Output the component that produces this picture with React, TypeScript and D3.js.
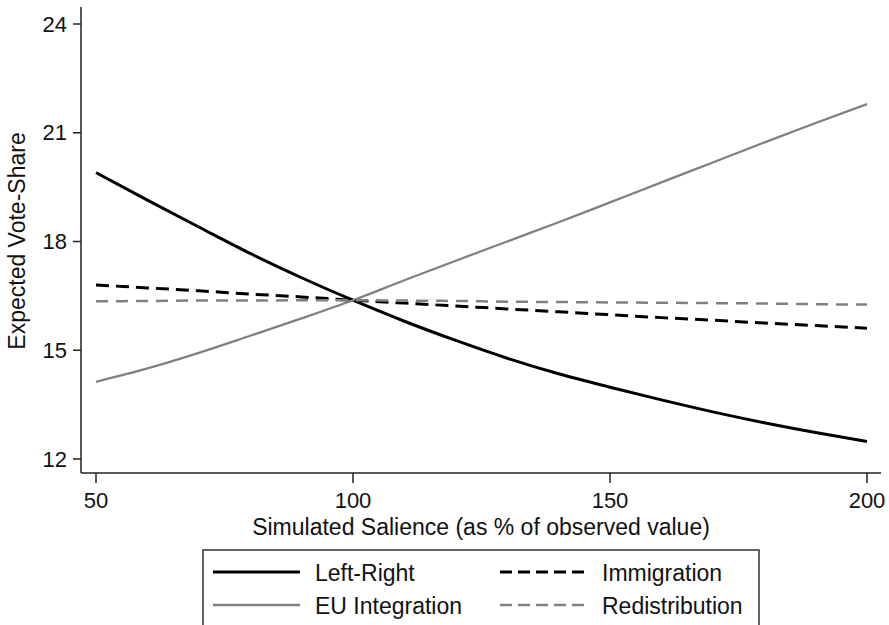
import React from "react";
import * as d3 from "d3";

const salience = [50, 60, 70, 80, 90, 100, 110, 120, 130, 140, 150, 160, 170, 180, 190, 200];
const leftRight = [19.9, 19.14, 18.4, 17.67, 17.0, 16.38, 15.8, 15.27, 14.78, 14.35, 13.98, 13.63, 13.3, 13.0, 12.73, 12.48];
const euIntegration = [14.13, 14.5, 14.93, 15.4, 15.88, 16.38, 16.93, 17.47, 18.0, 18.53, 19.08, 19.63, 20.18, 20.73, 21.27, 21.79];
const immigration = [16.8, 16.72, 16.64, 16.55, 16.47, 16.38, 16.3, 16.22, 16.14, 16.06, 15.98, 15.9, 15.83, 15.75, 15.68, 15.61];
const redistribution = [16.35, 16.36, 16.37, 16.37, 16.38, 16.38, 16.37, 16.36, 16.34, 16.33, 16.32, 16.31, 16.3, 16.29, 16.27, 16.26];

const xTicks = [50, 100, 150, 200];
const yTicks = [12, 15, 18, 21, 24];

const seriesNames = ["Left-Right", "EU Integration", "Immigration", "Redistribution"];

const W = 889;
const H = 625;
const FONT = "'Liberation Sans', Arial, sans-serif";
const GRAY = "#808080";

export default function App() {
  const x = d3.scaleLinear().domain([50, 200]).range([96, 867]);
  const y = d3.scaleLinear().domain([12, 24]).range([459, 24]);

  const line = d3
    .line<[number, number]>()
    .x((d) => x(d[0]))
    .y((d) => y(d[1]))
    .curve(d3.curveMonotoneX);

  const series = [
    { name: seriesNames[0], values: leftRight, color: "#000", width: 3, dash: undefined },
    { name: seriesNames[1], values: euIntegration, color: GRAY, width: 2.3, dash: undefined },
    { name: seriesNames[2], values: immigration, color: "#000", width: 3, dash: "13,7" },
    { name: seriesNames[3], values: redistribution, color: GRAY, width: 2.5, dash: "12,8" },
  ];

  const axisX0 = 81;
  const axisY0 = 473;
  const fs = 23;
  const tickFs = 22;

  const legend = [
    { s: series[0], lx: 213, ly: 572 },
    { s: series[1], lx: 213, ly: 605 },
    { s: series[2], lx: 500, ly: 572 },
    { s: series[3], lx: 500, ly: 605 },
  ];

  return (
    <svg
      width={W}
      height={H}
      style={{ position: "absolute", left: 0, top: 0, background: "#fff" }}
      fontFamily={FONT}
    >
      <rect x={0} y={0} width={W} height={H} fill="#fff" />
      <line x1={axisX0} x2={axisX0} y1={7} y2={axisY0} stroke="#222" strokeWidth={1.5} />
      <line x1={axisX0} x2={881} y1={axisY0} y2={axisY0} stroke="#222" strokeWidth={1.5} />
      {yTicks.map((t) => (
        <g key={"y" + t}>
          <line x1={73} x2={axisX0} y1={y(t)} y2={y(t)} stroke="#222" strokeWidth={1.5} />
          <text x={67} y={y(t)} textAnchor="end" dominantBaseline="central" fontSize={tickFs} fill="#111">
            {t}
          </text>
        </g>
      ))}
      {xTicks.map((t) => (
        <g key={"x" + t}>
          <line x1={x(t)} x2={x(t)} y1={axisY0} y2={483} stroke="#222" strokeWidth={1.5} />
          <text x={x(t)} y={508} textAnchor="middle" fontSize={tickFs} fill="#111">
            {t}
          </text>
        </g>
      ))}
      <text x={481} y={535} textAnchor="middle" fontSize={fs} fill="#111">
        Simulated Salience (as % of observed value)
      </text>
      <text
        transform={`translate(25, ${241}) rotate(-90)`}
        textAnchor="middle"
        fontSize={fs}
        fill="#111"
      >
        Expected Vote-Share
      </text>

      {series.map((s) => (
        <path
          key={s.name}
          d={line(salience.map((v, i) => [v, s.values[i]] as [number, number])) || ""}
          fill="none"
          stroke={s.color}
          strokeWidth={s.width}
          strokeDasharray={s.dash}
        />
      ))}

      <rect x={203} y={550} width={556} height={90} fill="#fff" stroke="#333" strokeWidth={1.5} />
      {legend.map(({ s, lx, ly }) => (
        <g key={"lg" + s.name}>
          <line
            x1={lx}
            x2={lx + 87}
            y1={ly}
            y2={ly}
            stroke={s.color}
            strokeWidth={s.width}
            strokeDasharray={s.dash ? "12,6" : undefined}
          />
          <text x={lx + 102} y={ly + 1} dominantBaseline="central" fontSize={fs} fill="#111">
            {s.name}
          </text>
        </g>
      ))}
    </svg>
  );
}
